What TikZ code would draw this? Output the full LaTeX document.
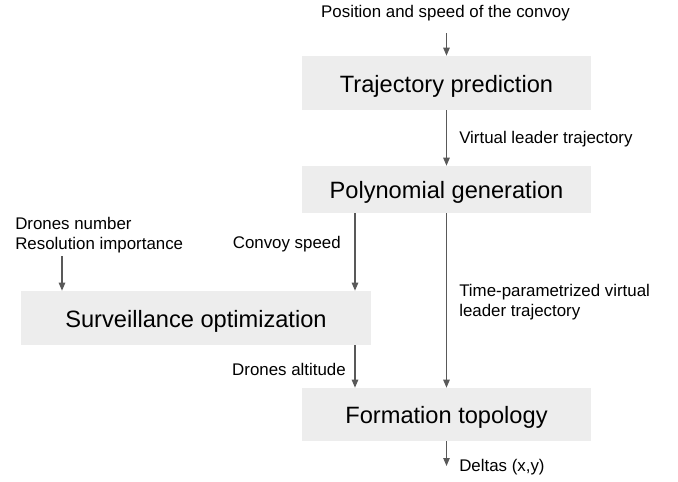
\documentclass[tikz,border=0pt]{standalone}
\usepackage{fontspec}
\setmainfont{Liberation Sans}
\usetikzlibrary{arrows.meta,positioning}
\definecolor{cajagris}{HTML}{EDEDED}
\definecolor{flechagris}{HTML}{595959}
\tikzset{
	bloque/.style={rectangle, fill=cajagris, text=black,
		font=\fontsize{16.8}{19}\selectfont, text centered, inner sep=0pt,
		text height=16pt, text depth=3.2pt},
	etiqueta/.style={font=\fontsize{12}{14.4}\selectfont, text=black,
		align=left, inner sep=0pt},
	flujo/.style={draw=flechagris, line width=0.9pt,
		-{Triangle[length=0.2cm,width=0.16cm]}}
}

\begin{document}
\begin{tikzpicture}[x=0.025cm,y=-0.025cm]
			\useasboundingbox (0,0) rectangle (678,481);
			
			\node[bloque, minimum width=7.225cm, minimum height=1.35cm] (tray) at (446.5,83) {Trajectory prediction};
			\node[bloque, minimum width=7.225cm, minimum height=1.175cm] (poli) at (446.5,189.5) {Polynomial generation};
			\node[bloque, minimum width=8.75cm, minimum height=1.35cm] (vigi) at (196,318) {Surveillance optimization};
			\node[bloque, minimum width=7.225cm, minimum height=1.325cm] (form) at (446.5,414.5) {Formation topology};
			
			\node[etiqueta, anchor=base] (entrada) at (445.5,17) {Position and speed of the convoy};
			\node[etiqueta, anchor=north west] (drones) at (15,216.5) {Drones number\\Resolution importance};
			\node[etiqueta, anchor=base west] (lider) at (459,143) {Virtual leader trajectory};
			\node[etiqueta, anchor=base east] (velo) at (341,248) {Convoy speed};
			\node[etiqueta, anchor=north west] (tiempo) at (459,283.5) {Time-parametrized virtual\\leader trajectory};
			\node[etiqueta, anchor=base east] (altura) at (346,375) {Drones altitude};
			\node[etiqueta, anchor=base west] (deltas) at (459,471) {Deltas (x,y)};
			
			% puntos libres de las flechas
			\coordinate (e1) at (446.5,33);
			\coordinate (e2) at (62,256);
			\coordinate (c1) at (355,213);
			\coordinate (fin) at (446.5,466);
			
			\draw[flujo] (e1) -- (tray.north);
			\draw[flujo] (tray) -- (poli);
			\draw[flujo] (poli) -- (form);
			\draw[flujo] (c1) -- (c1 |- vigi.north);
			\draw[flujo] (e2) -- (e2 |- vigi.north);
			\draw[flujo] (c1 |- vigi.south) -- (c1 |- form.north);
			\draw[flujo] (form) -- (fin);
		\end{tikzpicture}
\end{document}
